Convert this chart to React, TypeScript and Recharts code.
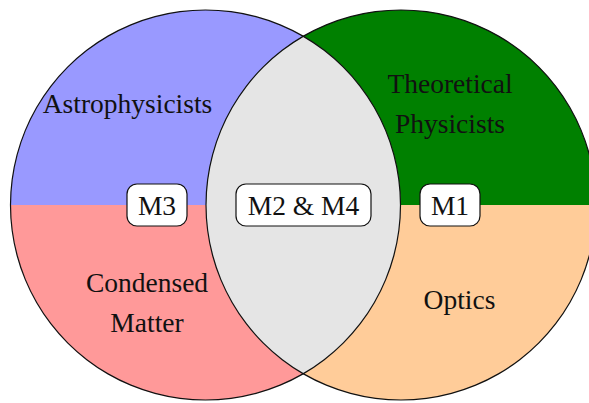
import { PieChart, Pie, Cell } from 'recharts'

// groups in each circle: top half first, bottom half second
const LEFT_GROUPS = ['Astrophysicists', 'Condensed Matter']
const RIGHT_GROUPS = ['Theoretical Physicists', 'Optics']
const HALF_SHARES = [1, 1]
const MODULES = ['M3', 'M2 & M4', 'M1']

const LEFT_COLORS = ['#9999ff', '#ff9999']
const RIGHT_COLORS = ['#008000', '#ffcc99']
const LENS_COLOR = '#e5e5e5'
const FONT = '"Liberation Serif", "Times New Roman", serif'

const W = 589
const H = 403
const R = 195
const CY = 205
const LEFT_CX = 205.5
const RIGHT_CX = 401

const leftData = LEFT_GROUPS.map((name, i) => ({ name, value: HALF_SHARES[i] }))
const rightData = RIGHT_GROUPS.map((name, i) => ({ name, value: HALF_SHARES[i] }))
const moduleData = MODULES.map((name) => ({ name, value: 1 }))
const whole = [{ name: 'all', value: 1 }]

// label layout (x center, first baseline)
const leftLabelPos = [
  { x: 127.5, y: 113 },
  { x: 147, y: 292 },
]
const rightLabelPos = [
  { x: 450, y: 93 },
  { x: 459.5, y: 309 },
]
const moduleBoxes = [
  { x: 157, w: 60 },
  { x: 303.5, w: 135 },
  { x: 450, w: 60 },
]

function groupLabel(pos: { x: number; y: number }[]) {
  return (props: any) => {
    const p = pos[props.index]
    const lines = String(props.name).split(' ')
    return (
      <text x={p.x} y={p.y} fontFamily={FONT} fontSize={27.5} fill="#111" textAnchor="middle">
        {lines.map((line, j) => (
          <tspan key={line} x={p.x} dy={j === 0 ? 0 : 40}>{line}</tspan>
        ))}
      </text>
    )
  }
}

function moduleLabel(props: any) {
  const b = moduleBoxes[props.index]
  return (
    <g>
      <rect x={b.x - b.w / 2} y={CY - 21} width={b.w} height={42}
        rx={10} fill="#fff" stroke="#111" strokeWidth={1.2} />
      <text x={b.x} y={CY + 9.5} fontFamily={FONT} fontSize={27.5} fill="#111" textAnchor="middle">
        {props.name}
      </text>
    </g>
  )
}

export default function App() {
  return (
    <div style={{ position: 'absolute', left: 0, top: 0, width: W, height: H, background: '#fff' }}>
      <PieChart width={W} height={H} margin={{ top: 0, right: 0, bottom: 0, left: 0 }}>
        <defs>
          <clipPath id="leftCircle">
            <circle cx={LEFT_CX} cy={CY} r={R} />
          </clipPath>
        </defs>
        <Pie data={leftData} dataKey="value" cx={LEFT_CX} cy={CY} outerRadius={R}
          startAngle={0} endAngle={360} stroke="none" isAnimationActive={false}
          label={groupLabel(leftLabelPos)} labelLine={false}>
          {leftData.map((d, i) => <Cell key={d.name} fill={LEFT_COLORS[i]} />)}
        </Pie>
        <Pie data={rightData} dataKey="value" cx={RIGHT_CX} cy={CY} outerRadius={R}
          startAngle={0} endAngle={360} stroke="none" isAnimationActive={false}
          label={groupLabel(rightLabelPos)} labelLine={false}>
          {rightData.map((d, i) => <Cell key={d.name} fill={RIGHT_COLORS[i]} />)}
        </Pie>
        {/* overlap: right circle clipped to the left one */}
        <Pie data={whole} dataKey="value" cx={RIGHT_CX} cy={CY} outerRadius={R}
          startAngle={0} endAngle={360} stroke="none" isAnimationActive={false}>
          <Cell fill={LENS_COLOR} clipPath="url(#leftCircle)" />
        </Pie>
        <Pie data={whole} dataKey="value" cx={LEFT_CX} cy={CY} innerRadius={R - 0.6} outerRadius={R + 0.6}
          startAngle={0} endAngle={360} stroke="none" fill="#111" isAnimationActive={false} />
        <Pie data={whole} dataKey="value" cx={RIGHT_CX} cy={CY} innerRadius={R - 0.6} outerRadius={R + 0.6}
          startAngle={0} endAngle={360} stroke="none" fill="#111" isAnimationActive={false} />
        {/* module boxes: invisible slices, drawn through their labels */}
        <Pie data={moduleData} dataKey="value" cx={LEFT_CX} cy={CY} outerRadius={1}
          fill="none" stroke="none" isAnimationActive={false}
          label={moduleLabel} labelLine={false} />
      </PieChart>
    </div>
  )
}
